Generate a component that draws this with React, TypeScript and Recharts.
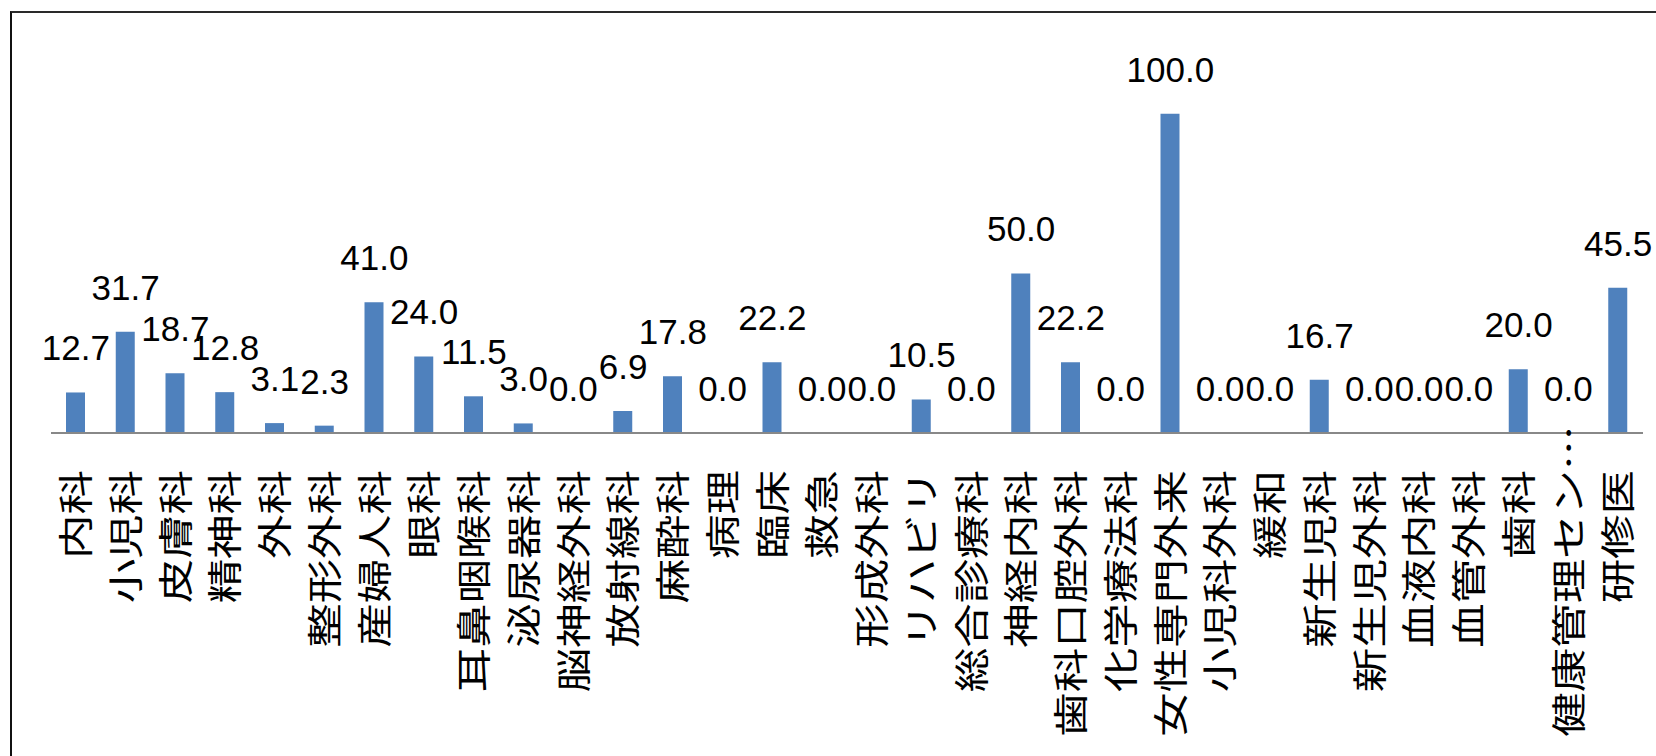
import { ComposedChart, Bar, Line, XAxis, YAxis, LabelList } from 'recharts';

// departments, left to right
const departments = [
  '内科', '小児科', '皮膚科', '精神科', '外科', '整形外科', '産婦人科', '眼科',
  '耳鼻咽喉科', '泌尿器科', '脳神経外科', '放射線科', '麻酔科', '病理', '臨床', '救急',
  '形成外科', 'リハビリ', '総合診療科', '神経内科', '歯科口腔外科', '化学療法科', '女性専門外来', '小児科外科',
  '緩和', '新生児科', '新生児外科', '血液内科', '血管外科', '歯科', '健康管理セン…', '研修医',
];

// percentage per department
const rates = [
  12.7, 31.7, 18.7, 12.8, 3.1, 2.3, 41.0, 24.0,
  11.5, 3.0, 0.0, 6.9, 17.8, 0.0, 22.2, 0.0,
  0.0, 10.5, 0.0, 50.0, 22.2, 0.0, 100.0, 0.0,
  0.0, 16.7, 0.0, 0.0, 0.0, 20.0, 0.0, 45.5,
];

const yDomain = [0, 120];

const data = departments.map((name, i) => ({ name, rate: rates[i] }));

const CJK_FONT = '"Noto Sans CJK JP", sans-serif';
const NUM_FONT = '"Liberation Sans", Arial, sans-serif';

// vertical category label, reads bottom to top, ends just under the axis
// eslint-disable-next-line @typescript-eslint/no-explicit-any
function DeptTick({ x, y, payload }: any) {
  const text: string = String(payload.value);
  const cut = text.endsWith('…');
  const body = cut ? text.slice(0, -1) : text;
  const common = {
    dy: '0.38em',
    fontSize: 35,
    fontFamily: CJK_FONT,
    fill: '#000',
  };
  return (
    <g transform={`translate(${x},${y + 37}) rotate(-90) scale(1.27,1)`}>
      <text textAnchor="end" {...common}>{body}</text>
      {cut && <text textAnchor="start" {...common}>…</text>}
    </g>
  );
}

export default function App() {
  return (
    <div
      style={{
        position: 'absolute',
        left: 0,
        top: 0,
        width: 1656,
        height: 756,
        overflow: 'hidden',
        background: '#fff',
      }}
    >
      {/* chart frame, right and bottom edges are off the picture */}
      <div
        style={{
          position: 'absolute',
          left: 10,
          top: 11,
          width: 1800,
          height: 900,
          borderLeft: '2px solid #111',
          borderTop: '2px solid #2a2a2a',
        }}
      />
      <div style={{ position: 'absolute', left: 0, top: 0 }}>
        <ComposedChart
          width={1656}
          height={756}
          data={data}
          margin={{ top: 50, right: 13, left: 51, bottom: 0 }}
        >
          <XAxis
            dataKey="name"
            interval={0}
            height={323}
            tickLine={false}
            tickSize={0}
            tickMargin={0}
            axisLine={{ stroke: '#888', strokeWidth: 2 }}
            tick={<DeptTick />}
          />
          <YAxis hide domain={yDomain} />
          <Bar dataKey="rate" fill="#4F81BD" barSize={19} isAnimationActive={false} />
          {/* invisible series that carries the value labels, so 0.0 gets one too */}
          <Line
            dataKey="rate"
            stroke="none"
            dot={false}
            activeDot={false}
            legendType="none"
            isAnimationActive={false}
          >
            <LabelList
              dataKey="rate"
              position="top"
              offset={32}
              formatter={(v: number) => Number(v).toFixed(1)}
              fontSize={35}
              fontFamily={NUM_FONT}
              fill="#000"
            />
          </Line>
        </ComposedChart>
      </div>
    </div>
  );
}
